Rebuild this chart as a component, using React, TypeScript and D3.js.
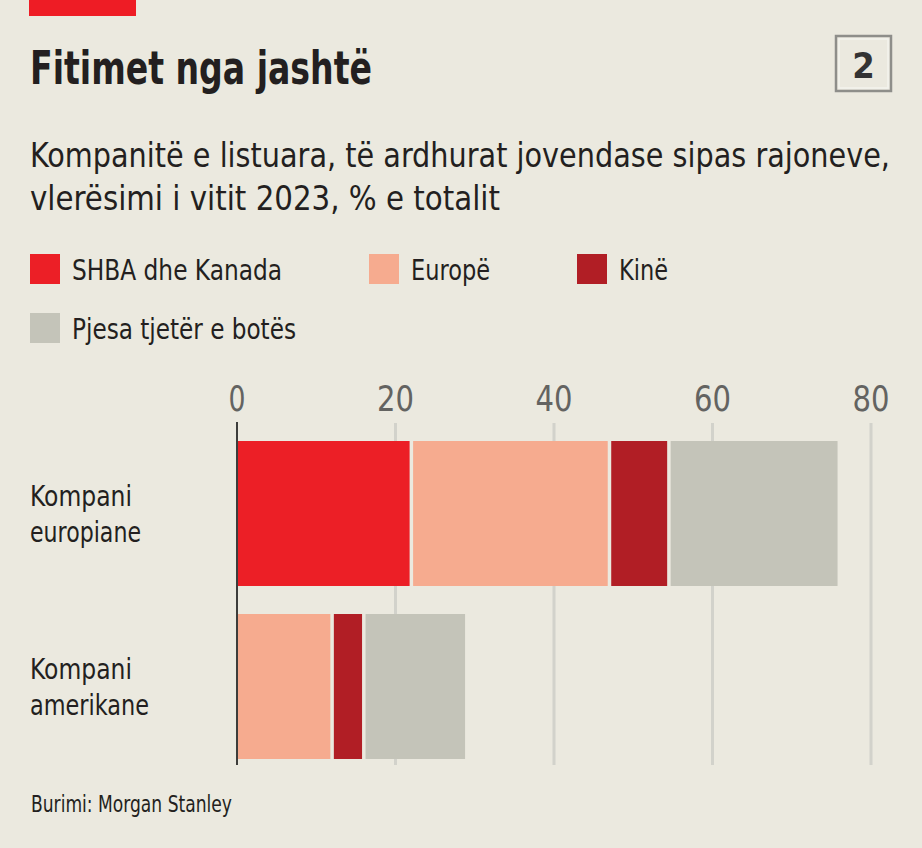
import React, { useEffect } from "react";
import * as d3 from "d3";

const categories = ["Kompani europiane", "Kompani amerikane"];
const categoryLines = [["Kompani", "europiane"], ["Kompani", "amerikane"]];
const seriesKeys = ["SHBA dhe Kanada", "Europë", "Kinë", "Pjesa tjetër e botës"];
const usaCanada = [22, 0];
const europe = [25, 12];
const china = [7.5, 4];
const restOfWorld = [21.5, 13];
const ticks = [0, 20, 40, 60, 80];

const W = 922;
const H = 848;
const BG = "#ebe9df";
const TXT = "#231f20";
const colors = ["#ec1f26", "#f6ab8f", "#b11e25", "#c4c4b9"];

const FONT = "'Liberation Sans Narrow', 'DejaVu Sans Condensed', 'Roboto', sans-serif";

export default function App() {
  useEffect(() => {
    document.body.style.margin = "0";
    document.body.style.background = BG;
  }, []);

  const x = d3.scaleLinear().domain([0, 80]).range([237, 871]);
  const y = d3
    .scaleBand<string>()
    .domain(categories)
    .range([427, 773])
    .paddingInner(0.162)
    .paddingOuter(0.081);

  const table = categories.map((c, i) => ({
    cat: c,
    [seriesKeys[0]]: usaCanada[i],
    [seriesKeys[1]]: europe[i],
    [seriesKeys[2]]: china[i],
    [seriesKeys[3]]: restOfWorld[i],
  }));
  const stacked = d3.stack<any>().keys(seriesKeys)(table);
  const gap = 3.5;

  const legendItems = [
    { key: seriesKeys[0], x: 30, y: 254, tl: 210 },
    { key: seriesKeys[1], x: 369, y: 254, tl: 79 },
    { key: seriesKeys[2], x: 577, y: 254, tl: 49 },
    { key: seriesKeys[3], x: 30, y: 313, tl: 224 },
  ];
  const catLens = [[102, 111], [102, 119]];

  return (
    <svg width={W} height={H} style={{ display: "block", background: BG }} fontFamily={FONT}>
      <rect x={0} y={0} width={W} height={H} fill={BG} />
      <rect x={29} y={0} width={107} height={16} fill="#ee1c25" />
      <text x={30} y={84} fontSize={46} fontWeight="bold" fill={TXT} textLength={342} lengthAdjust="spacingAndGlyphs">
        Fitimet nga jashtë
      </text>
      <rect x={836} y={36} width={55} height={55} fill="none" stroke="#8e8e8a" strokeWidth={2.5} />
      <rect x={839} y={39} width={49} height={49} fill="none" stroke="#f4f3ee" strokeWidth={1.5} />
      <text x={863.5} y={78} fontSize={36} fontWeight="bold" fill="#333" textAnchor="middle">2</text>
      <text x={30} y={167} fontSize={33} fill={TXT} textLength={860} lengthAdjust="spacingAndGlyphs">
        Kompanitë e listuara, të ardhurat jovendase sipas rajoneve,
      </text>
      <text x={30} y={210} fontSize={33} fill={TXT} textLength={470} lengthAdjust="spacingAndGlyphs">
        vlerësimi i vitit 2023, % e totalit
      </text>
      {legendItems.map((l, i) => (
        <g key={l.key}>
          <rect x={l.x} y={l.y} width={30} height={30} fill={colors[i]} />
          <text x={l.x + 42} y={l.y + 26} fontSize={29} fill={TXT} textLength={l.tl} lengthAdjust="spacingAndGlyphs">
            {l.key}
          </text>
        </g>
      ))}
      {ticks.map((t) => (
        <g key={t}>
          <text x={x(t)} y={411} fontSize={35} fill="#636361" textAnchor="middle" textLength={t === 0 ? 17 : 37} lengthAdjust="spacingAndGlyphs">
            {t}
          </text>
          {t !== 0 && <line x1={x(t)} x2={x(t)} y1={423} y2={765} stroke="#d2d2cb" strokeWidth={3} />}
        </g>
      ))}
      {stacked.map((s, si) =>
        s.map((d, di) => {
          const x0 = x(d[0]) + (d[0] > 0 ? gap / 2 : 0);
          const x1 = x(d[1]) - gap / 2;
          const w = x1 - x0;
          if (d[1] - d[0] <= 0) return null;
          return (
            <rect key={`${si}-${di}`} x={x0} y={y(categories[di])!} width={w} height={y.bandwidth()} fill={colors[si]} />
          );
        })
      )}
      <line x1={x(0)} x2={x(0)} y1={422} y2={765} stroke="#3d3d3b" strokeWidth={2} />
      {categoryLines.map((lines, i) => {
        const cy = y(categories[i])! + y.bandwidth() / 2;
        return (
          <g key={i}>
            {lines.map((ln, j) => (
              <text key={j} x={30} y={cy + (j === 0 ? -8 : 28)} fontSize={29} fill={TXT} textLength={catLens[i][j]} lengthAdjust="spacingAndGlyphs">
                {ln}
              </text>
            ))}
          </g>
        );
      })}
      <text x={31} y={812} fontSize={23} fill={TXT} textLength={201} lengthAdjust="spacingAndGlyphs">
        Burimi: Morgan Stanley
      </text>
    </svg>
  );
}
